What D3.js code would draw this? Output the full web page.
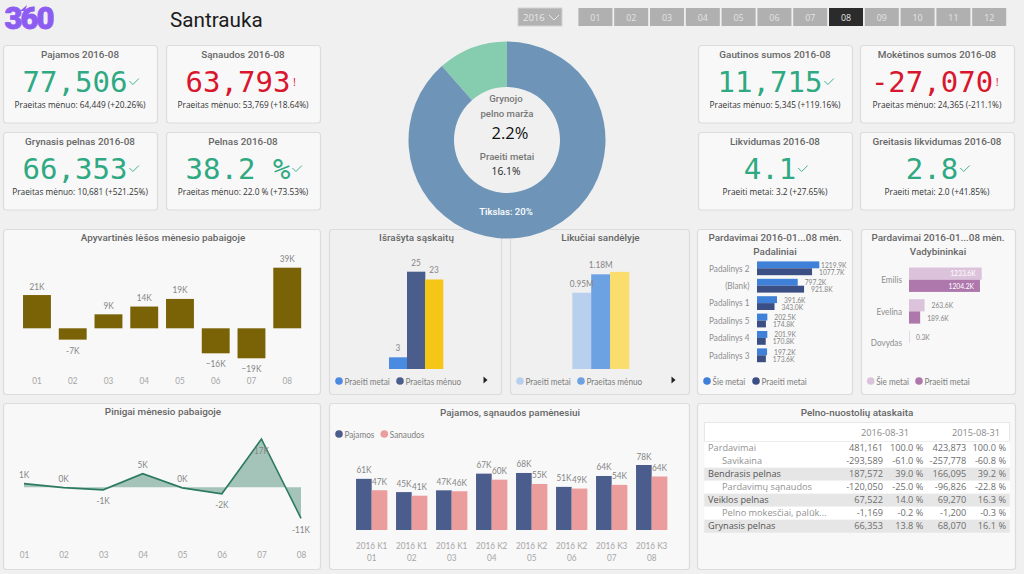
<!DOCTYPE html>
<html>
<head>
<meta charset="utf-8">
<script src="https://cdn.jsdelivr.net/npm/d3@7"></script>
<style>
html, body { margin: 0; padding: 0; background: #f0f0f0; overflow: hidden; }
svg { display: block; font-family: "Open Sans", sans-serif; }
</style>
</head>
<body>
<div id="chart"></div>
<script>
// Data
var buttonMonths = ["01","02","03","04","05","06","07","08","09","10","11","12"];
var selectedMonth = "08";
var months = ["01","02","03","04","05","06","07","08"];
var quarters = ["2016 K1","2016 K1","2016 K1","2016 K2","2016 K2","2016 K2","2016 K3","2016 K3"];

var kpiTitles = ["Pajamos 2016-08","Sąnaudos 2016-08","Grynasis pelnas 2016-08","Pelnas 2016-08","Gautinos sumos 2016-08","Mokėtinos sumos 2016-08","Likvidumas 2016-08","Greitasis likvidumas 2016-08"];
var kpiValues = ["77,506","63,793","66,353","38.2 %","11,715","-27,070","4.1","2.8"];
var kpiGood = [true,false,true,true,true,false,true,true];
var kpiNotes = ["Praeitas mėnuo: 64,449 (+20.26%)","Praeitas mėnuo: 53,769 (+18.64%)","Praeitas mėnuo: 10,681 (+521.25%)","Praeitas mėnuo: 22.0 % (+73.53%)","Praeitas mėnuo: 5,345 (+119.16%)","Praeitas mėnuo: 24,365 (-211.1%)","Praeiti metai: 3.2 (+27.65%)","Praeiti metai: 2.0 (+41.85%)"];

var marginParts = [2.3, 17.7];

var workingCapital = [21.4,-7.3,9,14,18.9,-16.1,-19.3,39];
var invoiceValues = [3,25,23];
var invoiceLabels = ["3","25","23"];
var stockValues = [0.95,1.18,1.21];
var stockLabels = ["0.95M","1.18M",""];
var legendPrev = ["Praeiti metai","Praeitas mėnuo"];

var branchNames = ["Padalinys 2","(Blank)","Padalinys 1","Padalinys 5","Padalinys 4","Padalinys 3"];
var branchNow = [1219.9,797.2,391.6,202.5,201.9,197.2];
var branchPrev = [1077.7,921.8,343.0,174.8,170.8,173.6];
var managerNames = ["Emilis","Evelina","Dovydas"];
var managerNow = [1233.6,263.6,0.3];
var managerPrev = [1204.2,189.6,null];
var legendYears = ["Šie metai","Praeiti metai"];

var cash = [1.3,-0.1,-0.9,4.8,-0.2,-2.3,17,-10.9];
var income = [61,45.2,47.3,67.2,68,51.4,64.4,77.5];
var costs = [47.4,40.9,46.2,60,54.9,49.4,53.8,63.8];
var incomeSeries = ["Pajamos","Sanaudos"];

var tableHeaders = ["2016-08-31","2015-08-31"];
var tableRows = ["Pardavimai","Savikaina","Bendrasis pelnas","Pardavimų sąnaudos","Veiklos pelnas","Pelno mokesčiai, palūk...","Grynasis pelnas"];
var tableNow = ["481,161","-293,589","187,572","-120,050","67,522","-1,169","66,353"];
var tableNowPct = ["100.0 %","-61.0 %","39.0 %","-25.0 %","14.0 %","-0.2 %","13.8 %"];
var tablePrev = ["423,873","-257,778","166,095","-96,826","69,270","-1,200","68,070"];
var tablePrevPct = ["100.0 %","-60.8 %","39.2 %","-22.8 %","16.3 %","-0.3 %","16.1 %"];

var labelGrey = "#858585";
var axisGrey = "#a6a6a6";
var titleGrey = "#666";
var good = "#2fa982";
var bad = "#d8162e";
var narrowFont = "Lato, sans-serif";
var titleFont = "Roboto, sans-serif";

var svg = d3.select("#chart").append("svg").attr("width", 1024).attr("height", 574);
svg.append("rect").attr("width", 1024).attr("height", 574).attr("fill", "#f0f0f0");

var fmtK = v => { var r = Math.round(v); return (r === 0 ? 0 : r) + "K"; };

// Helpers
addPanel = (x, y, w, h, fill) => {
    svg.append("rect")
        .attr("x", x + .5).attr("y", y + .5)
        .attr("width", w).attr("height", h).attr("rx", 3)
        .attr("fill", fill || "#f8f8f8")
        .attr("stroke", "#dcdcdc").attr("stroke-width", 1.2);
};

addText = (x, y, txt, size, color, anchor, weight) => {
    return svg.append("text")
        .attr("x", x).attr("y", y).attr("dy", ".35em")
        .attr("text-anchor", anchor || "middle")
        .attr("font-size", size).attr("fill", color)
        .attr("font-weight", weight || 400)
        .text(txt);
};

// no condensed font is installed, so narrow the glyphs of labels and axes
squeeze = (sel, factor) => {
    sel.each(function() {
        var len = this.getComputedTextLength();
        if (len > 0) d3.select(this).attr("textLength", len * (factor || .82)).attr("lengthAdjust", "spacingAndGlyphs");
    });
    return sel;
};

addLabel = (x, y, txt, size, color, anchor, factor) => {
    return squeeze(addText(x, y, txt, size, color, anchor).attr("font-family", narrowFont), factor);
};

addTitle = (x, y, txt) => addText(x, y, txt, 9.9, titleGrey, "middle", 500).attr("font-family", titleFont);

addLegend = (y, items) => {
    items.forEach(d => {
        svg.append("circle").attr("cx", d.x).attr("cy", y).attr("r", 3.8).attr("fill", d.color);
        addLabel(d.x + 5.5, y, d.name, 10, "#7d7d7d", "start");
    });
};

addArrow = (x, y) => {
    svg.append("path")
        .attr("d", d3.line()([[x - 2, y - 3.5], [x + 2, y], [x - 2, y + 3.5]]) + "Z")
        .attr("fill", "#222");
};

styleAxis = (g, color, size) => {
    g.select(".domain").remove();
    squeeze(g.selectAll("text").attr("fill", color).attr("font-size", size).attr("font-family", narrowFont));
};

// Header
addText(4.5, 18.2, "360", 31, "#8d5cf0", "start", 900)
    .attr("font-family", titleFont)
    .attr("letter-spacing", -2)
    .attr("stroke", "#8d5cf0").attr("stroke-width", .8);
svg.append("path").attr("d", "M20 11 L27 5 L25 11 Z").attr("fill", "#8d5cf0");
addText(170, 20, "Santrauka", 20.7, "#1c1c1c", "start").attr("font-family", titleFont);

svg.append("rect").attr("x", 518).attr("y", 8).attr("width", 44).attr("height", 18)
    .attr("fill", "#b2b2b2").attr("stroke", "#d2d2d2");
addText(523, 18, "2016", 9.5, "#e8e8e8", "start");
svg.append("path").attr("d", "M549 15 L554 20 L559 15").attr("fill", "none").attr("stroke", "#e8e8e8");

var monthX = d3.scaleBand().domain(buttonMonths).range([577.5, 577.5 + 35.8 * 12]).paddingInner(.05).paddingOuter(.025);
svg.append("g").selectAll("rect").data(buttonMonths).join("rect")
    .attr("x", d => monthX(d)).attr("y", 8)
    .attr("width", monthX.bandwidth()).attr("height", 18)
    .attr("fill", d => d === selectedMonth ? "#2b2b2b" : "#b0b0b0");
buttonMonths.forEach(d => {
    addText(monthX(d) + monthX.bandwidth() / 2, 17.5, d, 8.8, "#e4e4e4");
});

// KPI cards
var cardX = [3,166,3,166,698,860,698,860];
var cardY = [45,45,132,132,45,45,132,132];
kpiTitles.forEach((title, i) => {
    var x = cardX[i], y = cardY[i], cx = x + 77;
    addPanel(x, y, 154, 77.5);
    addTitle(cx, y + 9.3, title);
    var val = addText(cx - 5, y + 36.5, kpiValues[i], 29, kpiGood[i] ? good : bad)
        .attr("font-family", "\"DejaVu Sans Mono\", monospace");
    var right = cx - 5 + val.node().getComputedTextLength() / 2;
    if (kpiGood[i]) {
        svg.append("path")
            .attr("d", `M${right + 2} ${y + 36} l3.5 3.5 l6 -6`)
            .attr("fill", "none").attr("stroke", good).attr("stroke-width", .9);
    } else {
        addText(right + 4, y + 37, "!", 11, bad);
    }
    addText(cx, y + 60.5, kpiNotes[i], 8.3, "#333");
});

// Working capital bars
addPanel(3, 229, 317, 165);
addTitle(163, 238, "Apyvartinės lėšos mėnesio pabaigoje");
var wcX = d3.scaleBand().domain(months).range([19.1, 305.1]).paddingInner(.22).paddingOuter(.11);
var wcY = d3.scaleLinear().domain([0, 39]).range([328.3, 267.7]);
svg.append("g").selectAll("rect").data(workingCapital).join("rect")
    .attr("x", (d, i) => wcX(months[i]))
    .attr("y", d => Math.min(wcY(d), wcY(0)))
    .attr("width", wcX.bandwidth())
    .attr("height", d => Math.abs(wcY(d) - wcY(0)))
    .attr("fill", "#7a6206");
workingCapital.forEach((d, i) => {
    addLabel(wcX(months[i]) + wcX.bandwidth() / 2, wcY(d) + (d < 0 ? 10.5 : -9), fmtK(d).replace("-", d < -10 ? "−" : "-"), 10, labelGrey);
});
svg.append("g").attr("transform", "translate(0,376.5)")
    .call(d3.axisBottom(wcX).tickSize(0).tickPadding(0))
    .call(g => styleAxis(g, axisGrey, 10));

// Invoices and stock: three bars on one baseline
addThreeBars = (values, labels, colors, xRange, yTop, domainTop) => {
    var x = d3.scaleBand().domain(d3.range(3)).range(xRange);
    var y = d3.scaleLinear().domain([0, domainTop]).range([369, yTop]);
    svg.append("g").selectAll("rect").data(values).join("rect")
        .attr("x", (d, i) => x(i)).attr("y", d => y(d))
        .attr("width", x.bandwidth() + .3).attr("height", d => y(0) - y(d))
        .attr("fill", (d, i) => colors[i]);
    values.forEach((d, i) => {
        addLabel(x(i) + x.bandwidth() / 2, y(d) - 9.5, labels[i], 10, labelGrey);
    });
};

addPanel(329, 229, 172, 165, "#f0f0f0");
addTitle(416.5, 238, "Išrašyta sąskaitų");
var invoiceColors = ["#4a8ae0","#4b5d8c","#f5c616"];
addThreeBars(invoiceValues, invoiceLabels, invoiceColors, [389, 443], 271.7, 25);
addLegend(381, [{x: 339, name: legendPrev[0], color: invoiceColors[0]}, {x: 400, name: legendPrev[1], color: invoiceColors[1]}]);
addArrow(485.5, 380);

addPanel(510, 229, 179, 165, "#f0f0f0");
addTitle(600.5, 238, "Likučiai sandėlyje");
var stockColors = ["#b8d0ee","#6da2e2","#fadd6c"];
addThreeBars(stockValues, stockLabels, stockColors, [572.3, 629], 274.3, 1.18);
addLegend(381, [{x: 520, name: legendPrev[0], color: stockColors[0]}, {x: 581, name: legendPrev[1], color: stockColors[1]}]);
addArrow(673.5, 380);

// Sales by branch
addPanel(697, 229, 155, 165);
addTitle(775, 238, "Pardavimai 2016-01...08 mėn.");
addTitle(775, 252, "Padaliniai");
var branchY = d3.scaleBand().domain(branchNames).range([259.6, 364]);
var branchX = d3.scaleLinear().domain([0, 1219.9]).range([757, 819.3]);
var branchColors = ["#3f80d8","#3c4f85"];
[branchNow, branchPrev].forEach((series, s) => {
    svg.append("g").selectAll("rect").data(series).join("rect")
        .attr("x", branchX(0))
        .attr("y", (d, i) => branchY(branchNames[i]) + branchY.bandwidth() / 2 - 6.9 + s * 6.9)
        .attr("width", d => branchX(d) - branchX(0))
        .attr("height", 6.9)
        .attr("fill", branchColors[s]);
    series.forEach((d, i) => {
        var lx = Math.min(branchX(d) + 7, s === 0 ? 821 : 819);
        addLabel(lx, branchY(branchNames[i]) + branchY.bandwidth() / 2 + (s === 0 ? -3.4 : 3.6), d.toFixed(1) + "K", 8.4, labelGrey, "start", .8);
    });
});
svg.append("g").attr("transform", "translate(749.5,0)")
    .call(d3.axisLeft(branchY).tickSize(0).tickPadding(0))
    .call(g => styleAxis(g, "#8e8e8e", 10));
addLegend(381, [{x: 707, name: legendYears[0], color: branchColors[0]}, {x: 756, name: legendYears[1], color: branchColors[1]}]);

// Sales by manager
addPanel(861, 229, 154, 165);
addTitle(938, 238, "Pardavimai 2016-01...08 mėn.");
addTitle(938, 252, "Vadybininkai");
var managerY = d3.scaleBand().domain(managerNames).range([263.9, 358.9]);
var managerX = d3.scaleLinear().domain([0, 1233.6]).range([909, 981.7]);
var managerColors = ["#dcc3dc","#ae78ad"];
[managerNow, managerPrev].forEach((series, s) => {
    svg.append("g").selectAll("rect").data(series).join("rect")
        .attr("x", managerX(0))
        .attr("y", (d, i) => managerY(managerNames[i]) + managerY.bandwidth() / 2 - 12.2 + s * 12.2)
        .attr("width", d => d === null ? 0 : Math.max(managerX(d) - managerX(0), .6))
        .attr("height", 12.2)
        .attr("fill", managerColors[s]);
    series.forEach((d, i) => {
        if (d === null) return;
        var inside = d > 1000;
        addLabel(inside ? managerX(d) - 6 : managerX(d) + 7, managerY(managerNames[i]) + managerY.bandwidth() / 2 + (s === 0 ? -6.5 : 6.3), d.toFixed(1) + "K", 8.4, inside ? "#fff" : labelGrey, inside ? "end" : "start", .8);
    });
});
svg.append("g").attr("transform", "translate(902,0)")
    .call(d3.axisLeft(managerY).tickSize(0).tickPadding(0))
    .call(g => styleAxis(g, "#8e8e8e", 10));
addLegend(381, [{x: 870.7, name: legendYears[0], color: managerColors[0]}, {x: 919, name: legendYears[1], color: managerColors[1]}]);

// Cash line with area down to zero
addPanel(3, 403, 317, 166);
addTitle(163, 412, "Pinigai mėnesio pabaigoje");
var cashX = d3.scalePoint().domain(months).range([24, 301]);
var cashY = d3.scaleLinear().domain([0, 17]).range([487.3, 439]);
var cashArea = d3.area().x((d, i) => cashX(months[i])).y0(cashY(0)).y1(d => cashY(d));
var cashLine = d3.line().x((d, i) => cashX(months[i])).y(d => cashY(d));
svg.append("path").attr("d", cashArea(cash)).attr("fill", "#2f7d62").attr("fill-opacity", .42);
svg.append("path").attr("d", cashLine(cash)).attr("fill", "none").attr("stroke", "#2c7a60").attr("stroke-width", 1.6);
cash.forEach((d, i) => {
    var below = Math.round(d) < 0 || d > 15;
    addLabel(cashX(months[i]), cashY(d) + (below ? 11 : -9.3), fmtK(d), 10, labelGrey);
});
svg.append("g").attr("transform", "translate(0,550.5)")
    .call(d3.axisBottom(cashX).tickSize(0).tickPadding(0))
    .call(g => styleAxis(g, axisGrey, 10));

// Income and costs per month
addPanel(329, 403, 360, 166);
addTitle(510, 412.5, "Pajamos, sąnaudos pamėnesiui");
var incomeColors = ["#4b5d8c","#eb9c9c"];
addLegend(434, [{x: 339, name: incomeSeries[0], color: incomeColors[0]}, {x: 384.3, name: incomeSeries[1], color: incomeColors[1]}]);
var groupX = d3.scaleBand().domain(months).range([351.7, 671.7]).paddingInner(.217).paddingOuter(.1085);
var groupY = d3.scaleLinear().domain([0, 77.5]).range([530, 465]);
var barX = d3.scaleBand().domain(incomeSeries).range([0, groupX.bandwidth()]);
[income, costs].forEach((series, s) => {
    svg.append("g").selectAll("rect").data(series).join("rect")
        .attr("x", (d, i) => groupX(months[i]) + barX(incomeSeries[s]))
        .attr("y", d => groupY(d))
        .attr("width", barX.bandwidth())
        .attr("height", d => groupY(0) - groupY(d))
        .attr("fill", incomeColors[s]);
    series.forEach((d, i) => {
        addLabel(groupX(months[i]) + barX(incomeSeries[s]) + barX.bandwidth() / 2, groupY(d) - 9, fmtK(d), 10, labelGrey);
    });
});
var quarterAxis = d3.axisBottom(groupX).tickSize(0).tickPadding(0).tickFormat((d, i) => quarters[i]);
svg.append("g").attr("transform", "translate(0,541.5)").call(quarterAxis)
    .call(g => styleAxis(g, axisGrey, 10));
svg.append("g").attr("transform", "translate(0,554)")
    .call(d3.axisBottom(groupX).tickSize(0).tickPadding(0))
    .call(g => styleAxis(g, axisGrey, 10));

// Profit and loss table
addPanel(697, 403, 318, 166);
addTitle(857, 412.5, "Pelno-nuostolių ataskaita");
svg.append("rect").attr("x", 704.3).attr("y", 422.7).attr("width", 305.4).attr("height", 18.7)
    .attr("fill", "#fff").attr("stroke", "#dedede").attr("stroke-width", .7);
addText(885, 432.3, tableHeaders[0], 9.2, "#8a8a8a");
addText(976, 432.3, tableHeaders[1], 9.2, "#8a8a8a");
var rowY = d3.scaleBand().domain(tableRows).range([441.7, 441.7 + 13 * tableRows.length]);
var isTotal = i => i % 2 === 0 && i > 0;
svg.append("g").selectAll("rect").data(tableRows).join("rect")
    .attr("x", 704.3).attr("width", 305.4)
    .attr("y", d => rowY(d)).attr("height", rowY.bandwidth())
    .attr("fill", (d, i) => isTotal(i) ? "#e6e6e6" : "#fff");
tableRows.forEach((name, i) => {
    var y = rowY(name) + rowY.bandwidth() / 2;
    var sub = i % 2 === 1;
    addText(sub ? 722 : 708, y, name, 9.2, isTotal(i) ? "#555" : "#929292", "start");
    [[883, tableNow], [923.3, tableNowPct], [966.3, tablePrev], [1006, tablePrevPct]].forEach(col => {
        addText(col[0], y, col[1][i], 9.2, "#6e6e6e", "end");
    });
});

// Donut sits on top of the panels
var donut = svg.append("g").attr("transform", "translate(507,140)");
var pie = d3.pie().sort(null).startAngle(2 * Math.PI).endAngle(0);
var arc = d3.arc().innerRadius(53).outerRadius(98.5);
donut.selectAll("path").data(pie(marginParts)).join("path")
    .attr("d", arc)
    .attr("fill", (d, i) => i === 0 ? "#86cdb0" : "#6e95b8");
addTitle(506, 98.3, "Grynojo").attr("font-size", 9.6).attr("fill", "#777");
addTitle(507, 113.3, "pelno marža").attr("font-size", 9.6).attr("fill", "#777");
addText(510, 133.3, "2.2%", 16.5, "#111");
addTitle(507, 157, "Praeiti metai").attr("font-size", 9.6).attr("fill", "#777");
addText(506, 171.3, "16.1%", 10.3, "#222");
addTitle(506, 212, "Tikslas: 20%").attr("font-size", 9.6).attr("fill", "#fff");
</script>
</body>
</html>
